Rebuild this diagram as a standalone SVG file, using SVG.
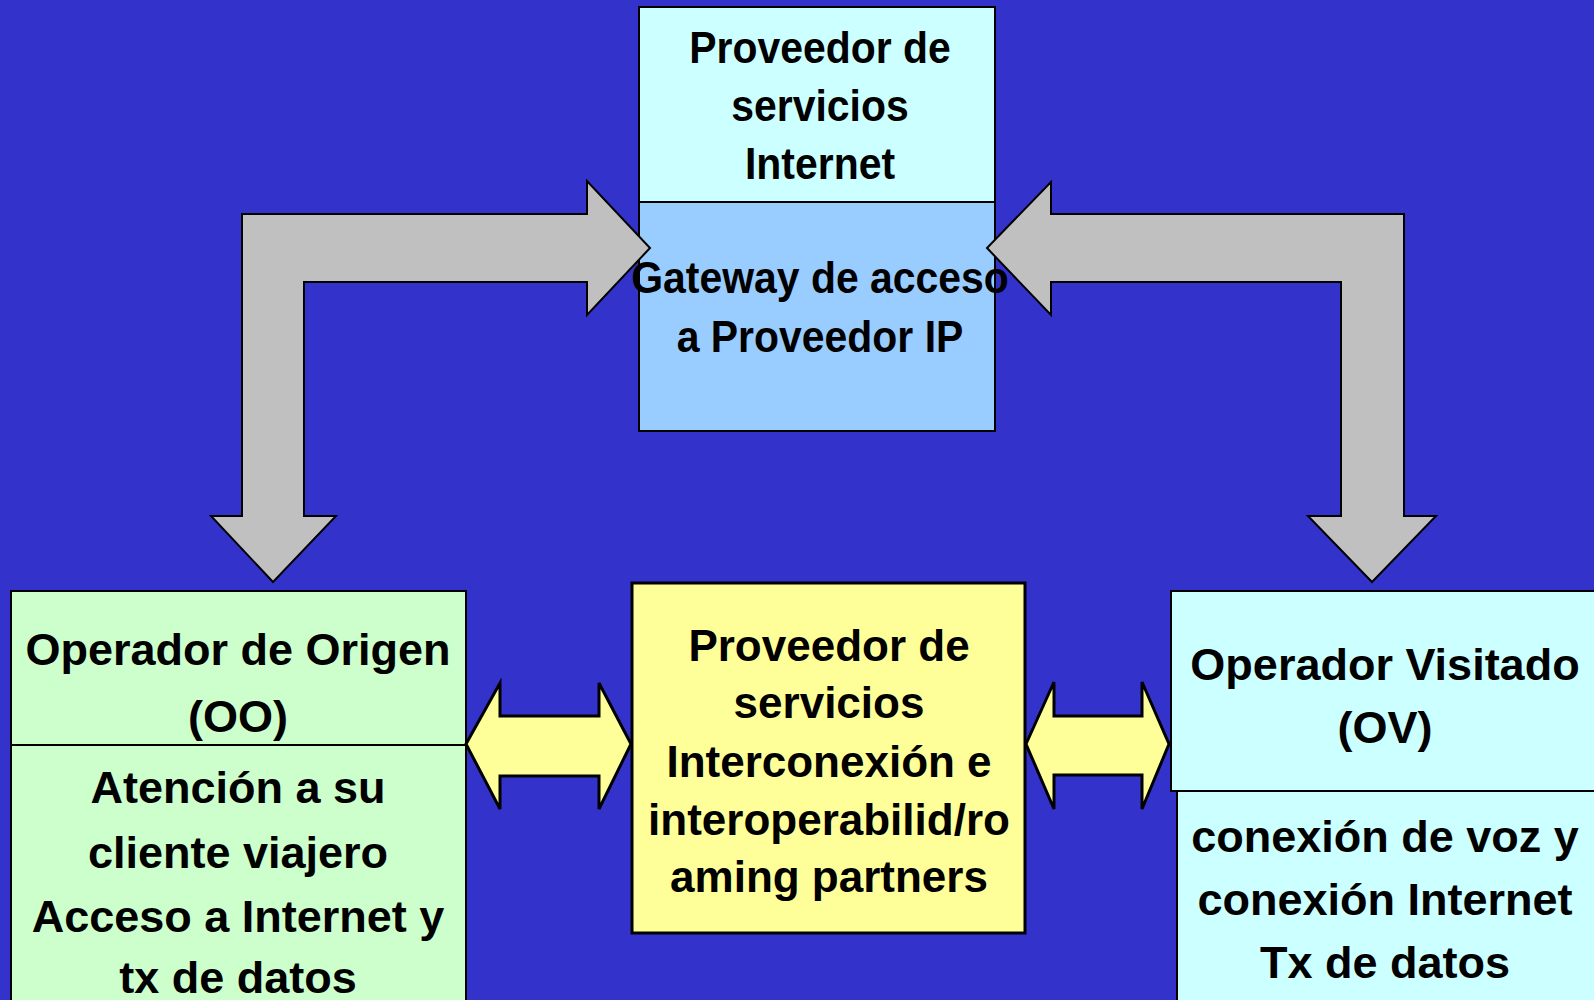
<svg xmlns="http://www.w3.org/2000/svg" width="1594" height="1000" viewBox="0 0 1594 1000">
<style>
text{font-family:"Liberation Sans",Arial,sans-serif;font-weight:bold;fill:#000;text-anchor:middle}
.t{font-size:44.5px}
.m{font-size:44px}
.b{font-size:45px}
.box{stroke:#000;stroke-width:2}
.gray{fill:#C0C0C0;stroke:#000;stroke-width:2;stroke-linejoin:miter}
.yel{fill:#FFFF99;stroke:#000;stroke-width:3;stroke-linejoin:miter}
</style>
<rect width="1594" height="1000" fill="#3333CC"/>
<g id="node-isp">
<rect class="box" x="639" y="7" width="356" height="195" fill="#CCFFFF"/>
<g transform="translate(820,0) scale(0.92,1)">
<text class="t" x="0" y="63">Proveedor de</text>
<text class="t" x="0" y="121">servicios</text>
<text class="t" x="0" y="179">Internet</text>
</g>
</g>
<g id="node-gateway">
<rect class="box" x="639" y="202" width="356" height="229" fill="#99CCFF"/>
<g transform="translate(820,0) scale(0.92,1)">
<text class="t" x="0" y="293">Gateway de acceso</text>
<text class="t" x="0" y="352">a Proveedor IP</text>
</g>
</g>
<g id="node-origen">
<rect class="box" x="11" y="591" width="455" height="154" fill="#CCFFCC"/>
<rect class="box" x="11" y="745" width="455" height="270" fill="#CCFFCC"/>
<text class="b" x="238" y="665">Operador de Origen</text>
<text class="b" x="238" y="732">(OO)</text>
<text class="b" x="238" y="803">Atención a su</text>
<text class="b" x="238" y="868">cliente viajero</text>
<text class="b" x="238" y="932">Acceso a Internet y</text>
<text class="b" x="238" y="993">tx de datos</text>
</g>
<g id="node-interconexion">
<rect x="632" y="583" width="393" height="350" fill="#FFFF99" stroke="#000" stroke-width="3"/>
<text class="m" x="829" y="661">Proveedor de</text>
<text class="m" x="829" y="718">servicios</text>
<text class="m" x="829" y="777">Interconexión e</text>
<text class="m" x="829" y="835">interoperabilid/ro</text>
<text class="m" x="829" y="892">aming partners</text>
</g>
<g id="node-visitado">
<rect class="box" x="1171" y="591" width="440" height="200" fill="#CCFFFF"/>
<rect class="box" x="1177" y="791" width="440" height="230" fill="#CCFFFF"/>
<text class="b" x="1385" y="680">Operador Visitado</text>
<text class="b" x="1385" y="743">(OV)</text>
<text class="b" x="1385" y="852">conexión de voz y</text>
<text class="b" x="1385" y="915">conexión Internet</text>
<text class="b" x="1385" y="978">Tx de datos</text>
</g>
<g id="connectors">
<polygon class="gray" points="242,214 587,214 587,181 650,248 587,315 587,282 304,282 304,516 336,516 273,582 211,516 242,516"/>
<polygon class="gray" points="1404,214 1051,214 1051,182 987,248 1051,315 1051,282 1341,282 1341,516 1308,516 1372,582 1436,516 1404,516"/>
<polygon class="yel" points="466,744 500,683 500,716 599,716 599,683 631,744 599,809 599,776 500,776 500,809"/>
<polygon class="yel" points="1026,744 1054,682 1054,716 1142,716 1142,682 1169,744 1142,809 1142,775 1054,775 1054,809"/>
</g>
</svg>
